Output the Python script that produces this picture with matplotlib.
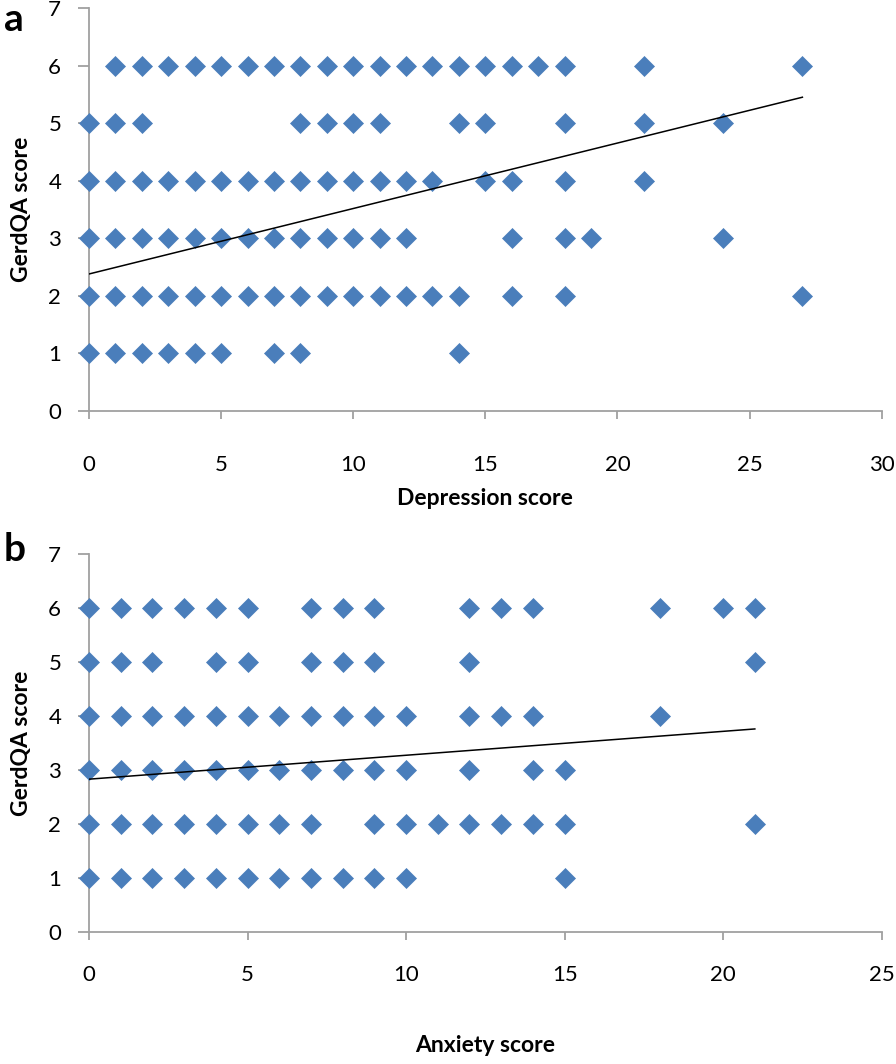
import numpy as np
import matplotlib
matplotlib.use("Agg")
import matplotlib.pyplot as plt

plt.rcParams['font.family'] = ['Lato', 'DejaVu Sans']

# Panel a: depression score vs GerdQA score (x values per GerdQA row)
dep_rows = {
    6: [1, 2, 3, 4, 5, 6, 7, 8, 9, 10, 11, 12, 13, 14, 15, 16, 17, 18, 21, 27],
    5: [0, 1, 2, 8, 9, 10, 11, 14, 15, 18, 21, 24],
    4: [0, 1, 2, 3, 4, 5, 6, 7, 8, 9, 10, 11, 12, 13, 15, 16, 18, 21],
    3: [0, 1, 2, 3, 4, 5, 6, 7, 8, 9, 10, 11, 12, 16, 18, 19, 24],
    2: [0, 1, 2, 3, 4, 5, 6, 7, 8, 9, 10, 11, 12, 13, 14, 16, 18, 27],
    1: [0, 1, 2, 3, 4, 5, 7, 8, 14],
}
dep_trend_x = [0, 27]
dep_trend_y = [2.38, 5.45]

# Panel b: anxiety score vs GerdQA score
anx_rows = {
    6: [0, 1, 2, 3, 4, 5, 7, 8, 9, 12, 13, 14, 18, 20, 21],
    5: [0, 1, 2, 4, 5, 7, 8, 9, 12, 21],
    4: [0, 1, 2, 3, 4, 5, 6, 7, 8, 9, 10, 12, 13, 14, 18],
    3: [0, 1, 2, 3, 4, 5, 6, 7, 8, 9, 10, 12, 14, 15],
    2: [0, 1, 2, 3, 4, 5, 6, 7, 9, 10, 11, 12, 13, 14, 15, 21],
    1: [0, 1, 2, 3, 4, 5, 6, 7, 8, 9, 10, 15],
}
anx_trend_x = [0, 21]
anx_trend_y = [2.83, 3.76]

MARKER_COLOR = '#4A7EBB'
AXIS_COLOR = '#A0A0A0'


def flatten(rows):
    xs, ys = [], []
    for y, xlist in rows.items():
        xs += xlist
        ys += [y] * len(xlist)
    return np.array(xs), np.array(ys)


def draw_panel(ax, rows, tx, ty, xmax, xlabel, xpad, xlabelpad):
    x, y = flatten(rows)
    ax.plot(x, y, linestyle='none', marker='D', markersize=10.5,
            color=MARKER_COLOR, markeredgecolor=MARKER_COLOR,
            markeredgewidth=0.5, clip_on=False, zorder=3)
    ax.plot(tx, ty, color='black', linewidth=1.1, zorder=4)
    ax.set_xlim(0, xmax)
    ax.set_ylim(0, 7)
    ax.set_xticks(np.arange(0, xmax + 1, 5))
    ax.set_yticks(np.arange(0, 8, 1))
    for s in ['top', 'right']:
        ax.spines[s].set_visible(False)
    for s in ['left', 'bottom']:
        ax.spines[s].set_color(AXIS_COLOR)
        ax.spines[s].set_linewidth(1.3)
        ax.spines[s].set_zorder(2)
    ax.tick_params(axis='x', direction='out', length=6, width=1.3,
                   color=AXIS_COLOR, labelsize=16, pad=xpad)
    ax.tick_params(axis='y', direction='out', length=8, width=1.3,
                   color=AXIS_COLOR, labelsize=16, pad=12)
    ax.set_xlabel(xlabel, fontsize=16.5, fontweight='bold', labelpad=xlabelpad)
    ax.set_ylabel('GerdQA score', fontsize=16.5, fontweight='bold', labelpad=12)


fig = plt.figure(figsize=(8.96, 10.64), dpi=100)
ax_a = fig.add_axes([0.0993, 0.6137, 0.8847, 0.3788])
ax_b = fig.add_axes([0.0993, 0.1241, 0.8847, 0.3552])

draw_panel(ax_a, dep_rows, dep_trend_x, dep_trend_y, 30, 'Depression score', 26, 9)
draw_panel(ax_b, anx_rows, anx_trend_x, anx_trend_y, 25, 'Anxiety score', 18, 36)

fig.text(0.004, 0.982, 'a', fontsize=28, fontweight='bold', va='center', ha='left')
fig.text(0.004, 0.484, 'b', fontsize=28, fontweight='bold', va='center', ha='left')

fig.savefig('out.png', dpi=100)
